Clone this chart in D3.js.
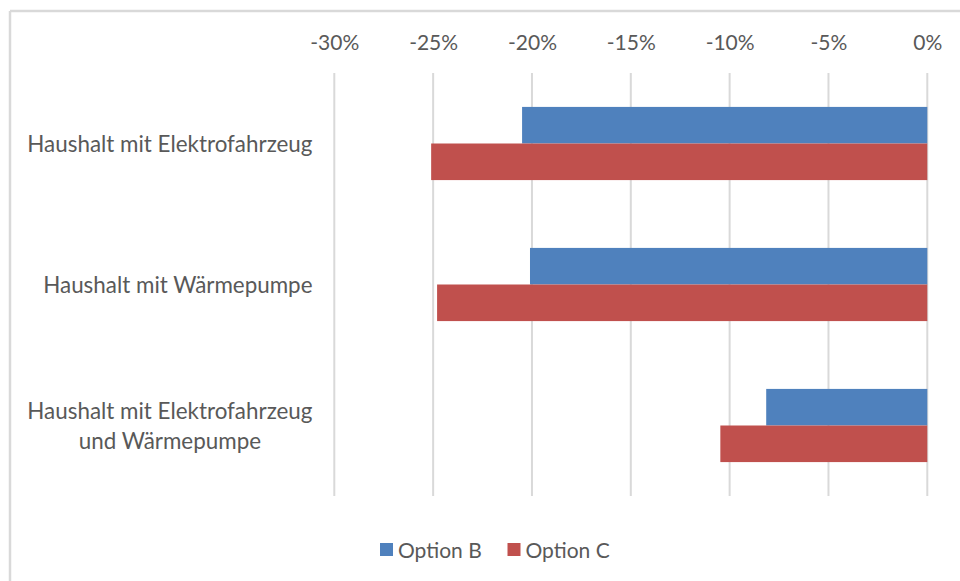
<!DOCTYPE html>
<html>
<head>
<meta charset="utf-8">
<script src="https://cdn.jsdelivr.net/npm/d3@7"></script>
<style>
  html, body { margin: 0; padding: 0; background: #fff; }
  svg { display: block; }
  text { font-family: Lato, "Open Sans", sans-serif; fill: #595959; }
</style>
</head>
<body>
<svg id="chart" width="960" height="581"></svg>
<script>
// Categories (each entry holds the lines of the label)
const categories = [
  ["Haushalt mit Elektrofahrzeug"],
  ["Haushalt mit Wärmepumpe"],
  ["Haushalt mit Elektrofahrzeug", "und Wärmepumpe"]
];
const seriesNames = ["Option B", "Option C"];
const optionB = [-0.205, -0.201, -0.0815];
const optionC = [-0.251, -0.248, -0.1047];
const tickValues = [-0.30, -0.25, -0.20, -0.15, -0.10, -0.05, 0];
const colors = ["#4F81BD", "#C0504D"];

const svg = d3.select("#chart");
const W = 960, H = 581;
const fontSize = 21;
const labelFontSize = 22.4;

// Outer frame: top and left edges
svg.append("line").attr("x1", 10).attr("x2", W).attr("y1", 11).attr("y2", 11)
  .attr("stroke", "#d9d9d9").attr("stroke-width", 2.5);
svg.append("line").attr("x1", 10).attr("x2", 10).attr("y1", 11).attr("y2", H)
  .attr("stroke", "#d9d9d9").attr("stroke-width", 2.5);

const plot = { left: 334.3, right: 927.3, top: 73, bottom: 496 };

const x = d3.scaleLinear().domain([-0.30, 0]).range([plot.left, plot.right]);
const y0 = d3.scaleBand().domain(d3.range(categories.length))
  .range([plot.top, plot.bottom]).paddingInner(0.481).paddingOuter(0.2405);
const y1 = d3.scaleBand().domain(d3.range(seriesNames.length))
  .range([0, y0.bandwidth()]);

// Vertical gridlines
svg.append("g")
  .selectAll("line").data(tickValues).join("line")
  .attr("x1", d => x(d)).attr("x2", d => x(d))
  .attr("y1", plot.top).attr("y2", plot.bottom)
  .attr("stroke", "#d9d9d9").attr("stroke-width", 2);

// Top axis labels
const fmt = d3.format(".0%");
const axis = d3.axisTop(x).tickValues(tickValues).tickFormat(d => fmt(d).replace("−", "-")).tickSize(0).tickPadding(0);
const ax = svg.append("g").attr("transform", `translate(0,${50})`).call(axis);
ax.select(".domain").remove();
ax.selectAll("text").attr("font-size", fontSize).attr("fill", "#595959")
  .style("font-family", "Lato, 'Open Sans', sans-serif");

// Bars
const series = [optionB, optionC];
const g = svg.append("g");
categories.forEach((c, i) => {
  series.forEach((vals, s) => {
    const v = vals[i];
    g.append("rect")
      .attr("x", x(v))
      .attr("width", x(0) - x(v))
      .attr("y", y0(i) + y1(s))
      .attr("height", y1.bandwidth())
      .attr("fill", colors[s]);
  });
});

// Category labels: block right-aligned, lines centred within the block
const labelRight = 312.5;
const lineGap = 29.5;
categories.forEach((lines, i) => {
  const cy = y0(i) + y0.bandwidth() / 2;
  const grp = svg.append("g");
  const texts = lines.map((t, k) => grp.append("text")
    .attr("font-size", labelFontSize)
    .attr("text-anchor", "middle")
    .attr("dominant-baseline", "central")
    .attr("y", cy + (k - (lines.length - 1) / 2) * lineGap)
    .text(t));
  const maxW = d3.max(texts, t => t.node().getComputedTextLength());
  texts.forEach(t => t.attr("x", labelRight - maxW / 2));
});

// Legend
const legend = svg.append("g");
const legendItems = [{ x: 380 }, { x: 507.5 }];
seriesNames.forEach((name, s) => {
  const lx = legendItems[s].x;
  legend.append("rect").attr("x", lx).attr("y", 543).attr("width", 13).attr("height", 13)
    .attr("fill", colors[s]);
  legend.append("text").attr("x", lx + 18).attr("y", 549.5)
    .attr("dominant-baseline", "central").attr("font-size", fontSize).text(name);
});
</script>
</body>
</html>
